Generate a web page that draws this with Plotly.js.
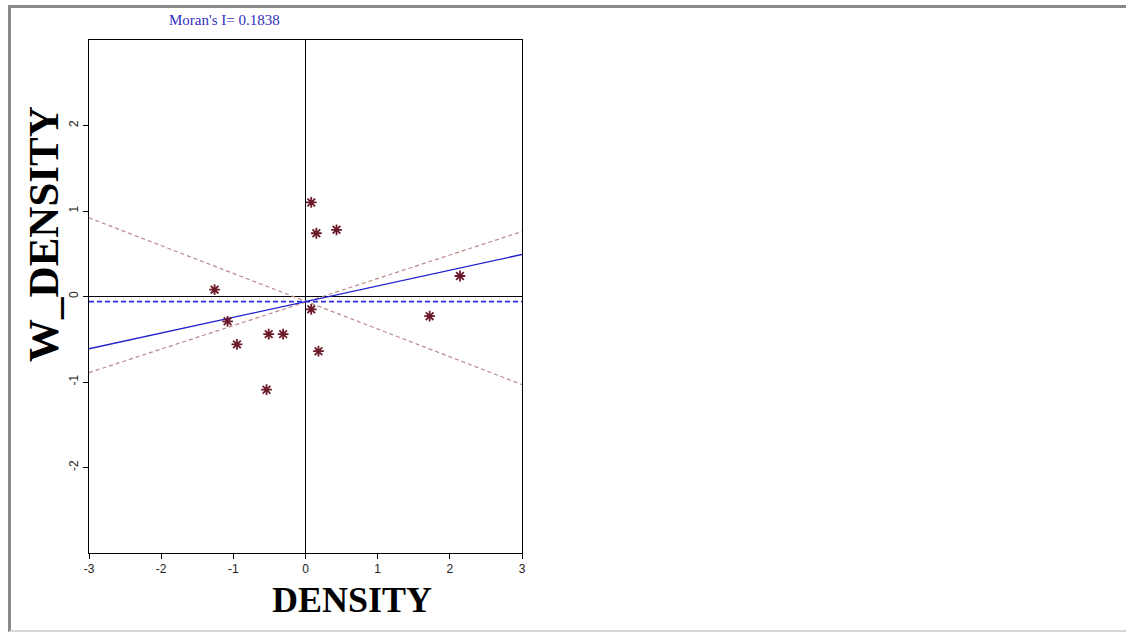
<!DOCTYPE html>
<html><head><meta charset="utf-8">
<script src="https://cdn.plot.ly/plotly-3.0.1.min.js"></script>
<style>
html,body{margin:0;padding:0;background:#fff;}
#wrap{position:relative;width:1126px;height:634px;}
#chart{position:absolute;left:0;top:0;width:1126px;height:634px;}
#frame{position:absolute;left:8px;top:5px;right:-4px;bottom:2px;border-top:3px solid #8a8a8a;border-left:3px solid #8a8a8a;border-bottom:2px solid #d8d8d8;pointer-events:none;}
</style></head>
<body><div id="wrap"><div id="chart"></div><div id="frame"></div></div>
<script>
// Observed values (DENSITY, W_DENSITY)
const density   = [0.08, 0.15, 0.43, -1.26, 2.14, -1.08, 0.08, 1.72, -0.51, -0.31, -0.95, 0.18, -0.54];
const wDensity  = [1.10, 0.74, 0.78, 0.08, 0.24, -0.29, -0.15, -0.23, -0.44, -0.44, -0.56, -0.64, -1.09];
// Moran regression line and reference lines
const moranI = 0.1838;
const regIntercept = -0.06;
const meanW = -0.06;
const bandSlopes = [-0.325, 0.275];
const bandIntercepts = [-0.055, -0.065];
const lineX = [-3, 3];
const xTicks = [-3, -2, -1, 0, 1, 2, 3];
const yTicks = [-2, -1, 0, 1, 2];
const xTitle = 'DENSITY';
const yTitle = 'W_DENSITY';

const f = (a, b) => lineX.map(x => a + b * x);
const traces = [];
bandSlopes.forEach((s, i) => {
  traces.push({x: lineX, y: f(bandIntercepts[i], s), mode: 'lines', line: {color: '#b98a86', width: 1.2, dash: '4px,3px'}, hoverinfo: 'skip'});
});
traces.push({x: lineX, y: lineX.map(() => meanW), mode: 'lines', line: {color: '#2a2ae0', width: 1.6, dash: '5px,3px'}});
traces.push({x: lineX, y: f(regIntercept, moranI), mode: 'lines', line: {color: '#2020d0', width: 1.4}});
traces.push({x: density, y: wDensity, mode: 'markers',
  marker: {symbol: 'asterisk-open', size: 9, color: '#6b1a2a', line: {color: '#6b1a2a', width: 1.8}}});
traces.push({x: density, y: wDensity, mode: 'markers',
  marker: {symbol: 'circle', size: 3, color: '#6b1a2a'}});

const layout = {
  width: 1126, height: 634, showlegend: false,
  paper_bgcolor: '#fff', plot_bgcolor: '#fff',
  margin: {l: 89, r: 604, t: 40, b: 81, pad: 0},
  xaxis: {range: [-3, 3], tickvals: xTicks, ticktext: xTicks.map(String), ticks: 'outside', ticklen: 5, tickcolor: '#000',
    showline: true, linecolor: '#000', linewidth: 1, mirror: true, showgrid: false,
    zeroline: true, zerolinecolor: '#000', zerolinewidth: 1.2,
    tickfont: {family: 'Liberation Sans', size: 12, color: '#222'}},
  yaxis: {range: [-3, 3], tickvals: yTicks, ticktext: yTicks.map(String), ticks: 'outside', ticklen: 5, tickcolor: '#000', tickangle: -90,
    showline: true, linecolor: '#000', linewidth: 1, mirror: true, showgrid: false,
    zeroline: true, zerolinecolor: '#000', zerolinewidth: 1.2,
    tickfont: {family: 'Liberation Sans', size: 12, color: '#222'}},
  annotations: [
    {xref: 'paper', yref: 'paper', x: 0.312, y: 1.039, xanchor: 'center', yanchor: 'middle', showarrow: false,
     text: "Moran's I= " + moranI.toFixed(4), font: {family: 'Liberation Serif', size: 15, color: '#3030c0'}},
    {xref: 'paper', yref: 'paper', x: 0.607, y: -0.092, xanchor: 'center', yanchor: 'middle', showarrow: false,
     text: xTitle, font: {family: 'Liberation Serif', size: 36, color: '#000', weight: 'bold'}},
    {xref: 'paper', yref: 'paper', x: -0.104, y: 0.622, xanchor: 'center', yanchor: 'middle', showarrow: false, textangle: -90,
     text: yTitle, font: {family: 'Liberation Serif', size: 43, color: '#000', weight: 'bold'}}
  ]
};
Plotly.newPlot('chart', traces, layout, {staticPlot: true, displayModeBar: false});
</script></body></html>
